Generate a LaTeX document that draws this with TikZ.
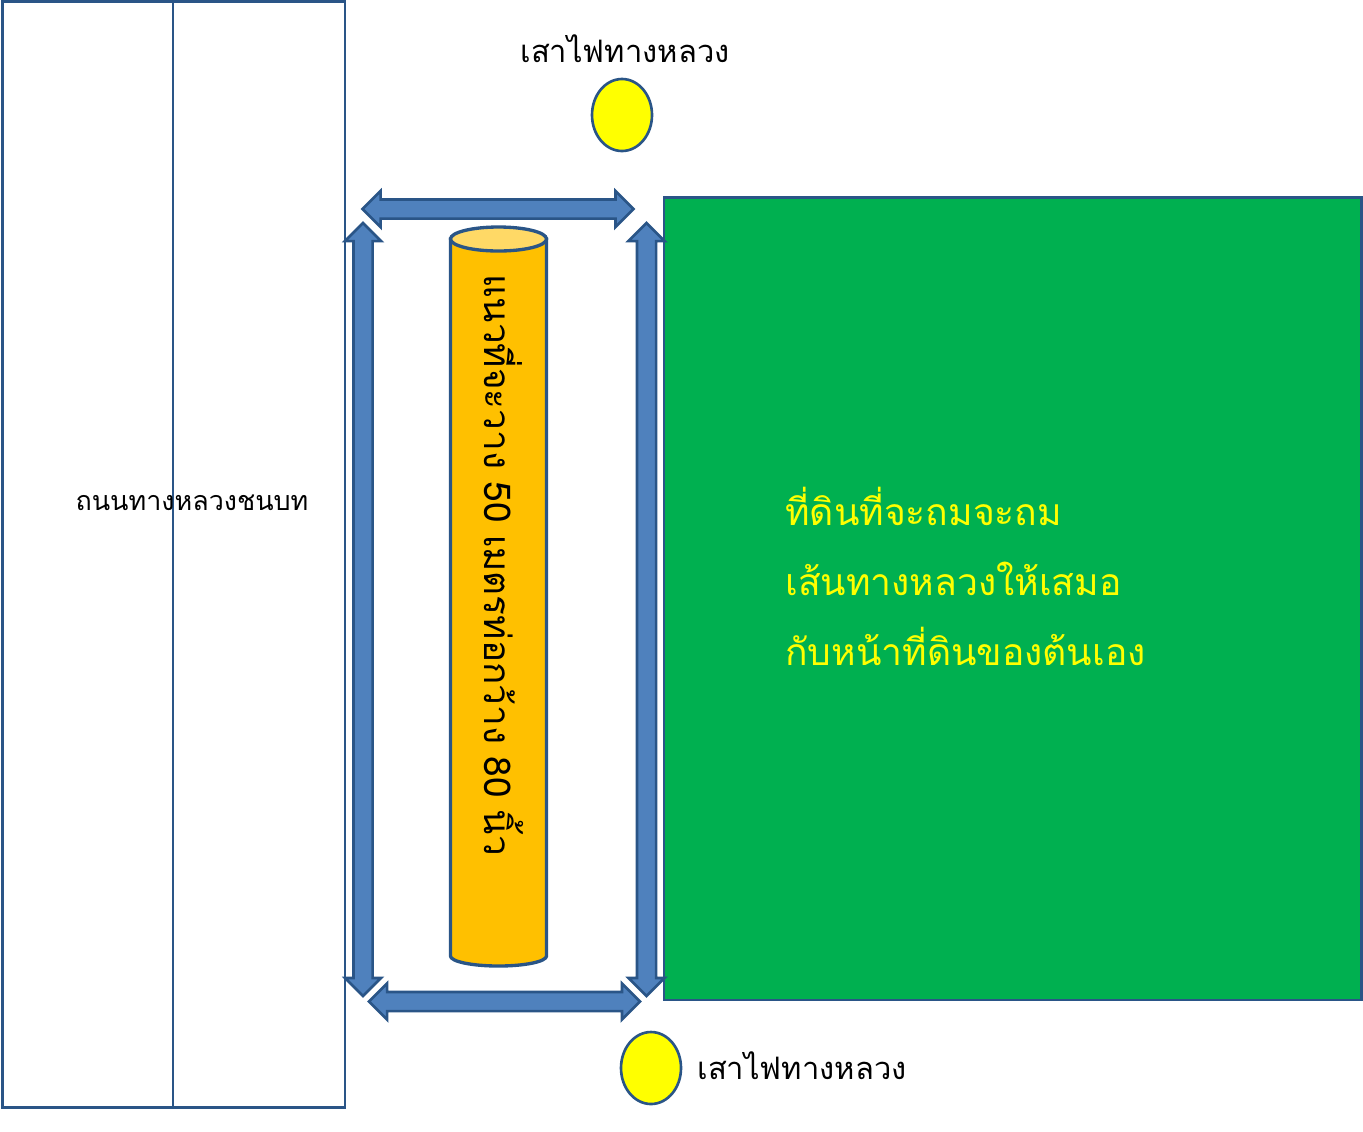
\documentclass[tikz,border=0pt]{standalone}
\usepackage{fontspec}
\newfontfamily\thaifont[Script=Thai]{Loma}
\usetikzlibrary{shapes.geometric,shapes.arrows}
\definecolor{edgeblue}{HTML}{2A5587}
\definecolor{arrowblue}{HTML}{4F81BD}
\definecolor{pipeorange}{HTML}{FFC000}
\definecolor{pipetop}{HTML}{FFD966}
\definecolor{landgreen}{HTML}{00B050}
\definecolor{poleyellow}{HTML}{FFFF00}
\tikzset{
  plot/.style={draw=edgeblue,line width=1.5pt},
  widearrow/.style={plot,fill=arrowblue,double arrow,double arrow head extend=0.17cm,inner xsep=0pt,inner ysep=0.165cm,anchor=center},
  pole/.style={plot,fill=poleyellow,ellipse,minimum width=1.2cm,minimum height=1.44cm,inner sep=0pt},
  thailabel/.style={font=\thaifont\fontsize{17.6}{21}\selectfont,inner sep=0pt}
}
\begin{document}
\begin{tikzpicture}
%picture
\useasboundingbox (0,0) rectangle (27.26,-22.62);
\draw [plot,fill=white] (0.05,-0.03) rectangle (6.9,-22.15);
\draw [plot] (3.46,-0.03)--(3.46,-22.15);
\draw [plot,fill=landgreen] (13.28,-3.95) rectangle (27.23,-20);
\node [pole] (poleTop) at (12.44,-2.3) {};
\node [pole] (poleBottom) at (13.02,-21.36) {};
\node [widearrow,minimum height=5.42cm] (arrowTop) at (9.96,-4.18) {};
\node [widearrow,minimum height=5.42cm] (arrowBottom) at (10.09,-20.03) {};
\node [widearrow,minimum height=15.46cm,rotate=90] (arrowLeft) at (7.26,-12.19) {};
\node [widearrow,minimum height=15.46cm,rotate=90] (arrowRight) at (12.93,-12.19) {};
\draw [plot,line width=1.9pt,fill=pipeorange] (9.01,-4.78)--(9.01,-19.12) arc (180:360:0.96 and 0.2)--(10.93,-4.78)--cycle;
\draw [plot,line width=1.9pt,fill=pipetop] (9.97,-4.78) ellipse (0.96 and 0.24);
\node [thailabel,font=\thaifont\fontsize{21}{25}\selectfont,rotate=-90] (pipeText) at (10.08,-11.3) {แนวที่จะวาง 50 เมตรท่อกว้าง 80 นิ้ว};
\node [thailabel] (poleTopText) at (12.5,-0.97) {เสาไฟทางหลวง};
\node [thailabel] (poleBottomText) at (16.04,-21.32) {เสาไฟทางหลวง};
\node [thailabel,font=\thaifont\fontsize{15.3}{18}\selectfont] (roadText) at (3.84,-10.05) {ถนนทางหลวงชนบท};
\node [thailabel,font=\thaifont\fontsize{21.2}{25}\selectfont,text=poleyellow,anchor=base west] (landOne) at (15.7,-10.5) {ที่ดินที่จะถมจะถม};
\node [thailabel,font=\thaifont\fontsize{21.2}{25}\selectfont,text=poleyellow,anchor=base west] (landTwo) at (15.7,-11.9) {เส้นทางหลวงให้เสมอ};
\node [thailabel,font=\thaifont\fontsize{21.2}{25}\selectfont,text=poleyellow,anchor=base west] (landThree) at (15.7,-13.3) {กับหน้าที่ดินของต้นเอง};
\end{tikzpicture}
\end{document}
